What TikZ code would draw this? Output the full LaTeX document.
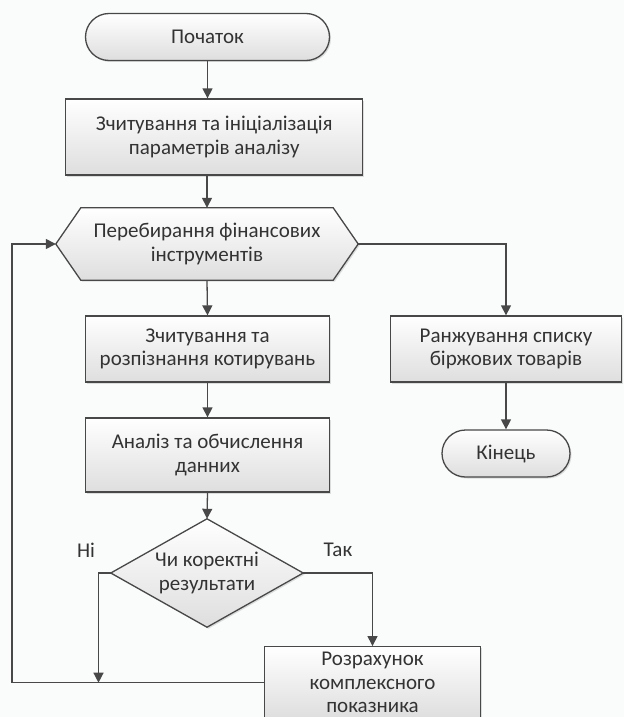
\documentclass[tikz,border=0pt]{standalone}
\usepackage{fontspec}
\setmainfont{Carlito}
\usetikzlibrary{arrows.meta,shapes.misc,shadows}

\definecolor{linecol}{RGB}{72,72,72}
\definecolor{textcol}{RGB}{51,51,51}
\definecolor{shadegray}{RGB}{222,222,222}
\definecolor{paper}{RGB}{250,251,251}

\tikzset{
  line/.style={draw=linecol,line width=1.3pt},
  arrow/.style={line,-{Triangle[length=10pt,width=10pt]}},
  shapefill/.style={line,top color=white,bottom color=shadegray,
    drop shadow={shadow xshift=1.5pt,shadow yshift=-1.5pt,opacity=0.25}},
  box/.style={shapefill,rectangle,inner sep=0pt,align=center,text=textcol},
  term/.style={box,rounded rectangle},
  bare/.style={rectangle,inner sep=0pt,align=center,text=textcol},
  lbl/.style={text=textcol}
}

\begin{document}
\begin{tikzpicture}[x=1pt,y=-1pt,font=\fontsize{21}{23.5}\selectfont]
  \fill[paper] (0,0) rectangle (624,717);
  \useasboundingbox (0,0) rectangle (624,717);

  \node[term,minimum width=244pt,minimum height=47pt] (start) at (207.5,37) {Початок};
  \node[box,minimum width=297pt,minimum height=76pt] (init) at (214.3,137)
    {Зчитування та ініціалізація\\параметрів аналізу};
  \node[bare,minimum width=302pt,minimum height=72pt] (hex) at (207,244) {};
  \path[shapefill] (hex.west) -- ([xshift=25pt]hex.north west) -- ([xshift=-25pt]hex.north east)
    -- (hex.east) -- ([xshift=-25pt]hex.south east) -- ([xshift=25pt]hex.south west) -- cycle;
  \node[bare] at (hex) {Перебирання фінансових\\інструментів};
  \node[box,minimum width=244pt,minimum height=66pt] (read) at (207.5,349)
    {Зчитування та\\розпізнання котирувань};
  \node[box,minimum width=231pt,minimum height=66pt] (rank) at (506,349)
    {Ранжування списку\\біржових товарів};
  \node[term,minimum width=128pt,minimum height=47pt] (endn) at (506,453.5) {Кінець};
  \node[box,minimum width=244pt,minimum height=74pt] (anal) at (207.5,455)
    {Аналіз та обчислення\\данних};
  \node[bare,minimum width=192pt,minimum height=108pt] (check) at (207,573) {};
  \path[shapefill] (check.north) -- (check.east) -- (check.south) -- (check.west) -- cycle;
  \node[bare] at (check) {Чи коректні\\результати};
  \node[box,minimum width=216pt,minimum height=72pt] (calc) at (372.5,682.7)
    {Розрахунок\\комплексного\\показника};

  \node[lbl] (no) at (86,550) {Ні};
  \node[lbl] (yes) at (338,550) {Так};
  \coordinate (loopx) at (12,0);
  \coordinate (nox) at (98.5,0);

  % main line
  \draw[arrow] (start.south) -- (start |- init.north);
  \draw[arrow] (hex |- init.south) -- (hex.north);
  \draw[arrow] (hex.south) -- (read.north);
  \draw[arrow] (read.south) -- (anal.north);
  \draw[arrow] (anal.south) -- (check.north);
  % branches
  \draw[arrow] (hex.east) -| (rank.north);
  \draw[arrow] (rank.south) -- (endn.north);
  \draw[arrow] (check.east) -| (calc.north);
  \draw[arrow] (check.west) -| (nox |- calc.west);
  \draw[arrow] (calc.west) -- (loopx |- calc.west) |- (hex.west);
\end{tikzpicture}
\end{document}
